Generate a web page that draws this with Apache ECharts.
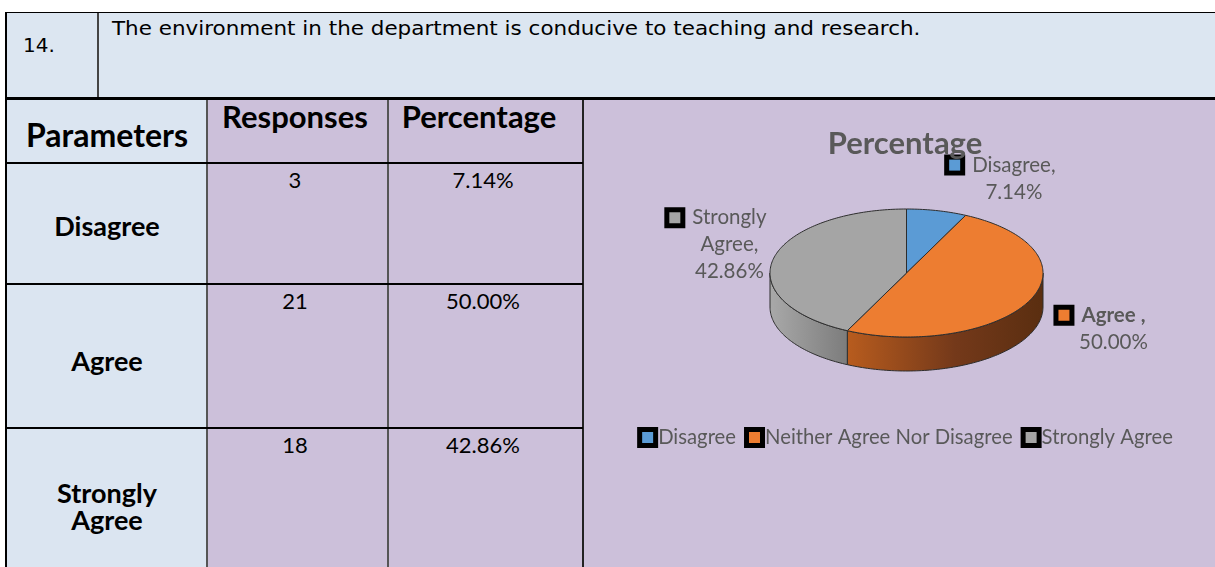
<!DOCTYPE html>
<html>
<head>
<meta charset="utf-8">
<title>Percentage</title>
<script src="https://cdn.jsdelivr.net/npm/echarts@6/dist/echarts.min.js"></script>
<style>
  body { margin: 0; width: 1215px; height: 567px; overflow: hidden; background: #fff; position: relative; font-family: Lato, sans-serif; }
  .abs { position: absolute; box-sizing: border-box; }
  .blue { background: #dbe5f1; }
  .lav { background: #ccc0da; }
  .hline { background: #000; height: 2px; }
  .vline { width: 1.5px; background: #555; }
  .q { font-family: "DejaVu Sans", sans-serif; color: #000; white-space: nowrap; line-height: normal; }
  .hdr { font-weight: bold; text-align: center; line-height: 1.2; color: #000; white-space: nowrap; }
  .val { text-align: center; font-size: 22px; line-height: 1.2; color: #000; }
  .par { font-weight: bold; text-align: center; font-size: 27px; line-height: 27px; color: #000; }
  #chart { left: 584px; top: 99px; width: 642px; height: 468px; }
</style>
</head>
<body>
  <!-- 题目行 -->
  <div class="abs" style="left:6px;top:12px;width:1220px;height:87px;background:#dce6f1;border-top:1.5px solid #000;"></div>
  <div class="abs" style="left:97px;top:13px;width:1.5px;height:85px;background:#444;"></div>
  <div class="abs" style="left:6px;top:97px;width:1220px;height:3px;background:#000;"></div>
  <div class="abs q" style="left:23px;top:33px;font-size:20px;">14.</div>
  <div class="abs q" id="question" style="left:112px;top:17px;font-size:19px;transform:scaleX(1.13);transform-origin:0 0;"></div>

  <!-- 表格底色 -->
  <div class="abs blue" style="left:6px;top:100px;width:201px;height:467px;"></div>
  <div class="abs lav" style="left:207px;top:100px;width:1010px;height:467px;"></div>

  <!-- 表头 -->
  <div class="abs hdr" style="left:7px;top:116px;width:200px;font-size:32px;">Parameters</div>
  <div class="abs hdr" style="left:207px;top:98px;width:176px;font-size:31px;">Responses</div>
  <div class="abs hdr" style="left:388px;top:98px;width:182px;font-size:31px;">Percentage</div>

  <div id="rows"></div>

  <!-- 表格线 -->
  <div class="abs" style="left:5px;top:12px;width:2px;height:555px;background:#000;"></div>
  <div class="abs vline" style="left:206px;top:100px;height:467px;"></div>
  <div class="abs vline" style="left:387px;top:100px;height:467px;"></div>
  <div class="abs" style="left:582px;top:100px;width:2px;height:467px;background:#222;"></div>
  <div class="abs hline" style="left:6px;top:162px;width:577px;"></div>
  <div class="abs hline" style="left:6px;top:283px;width:577px;"></div>
  <div class="abs hline" style="left:6px;top:427px;width:577px;"></div>

  <div class="abs" id="chart"></div>

<script>
// 数据
const question = 'The environment in the department is conducive to teaching and research.';
const parameters = ['Disagree', 'Agree', 'Strongly Agree'];
const responses = [3, 21, 18];
const percentages = [7.14, 50.00, 42.86];
const legendNames = ['Disagree', 'Neither Agree Nor Disagree', 'Strongly Agree'];
const sliceLabels = ['Disagree', 'Agree ', 'Strongly\nAgree'];

// 样式
const sliceColors = ['#5b9bd5', '#ed7d31', '#a5a5a5'];
const sideColors = [
  [{ offset: 0, color: '#41719c' }, { offset: 1, color: '#2e5275' }],
  [{ offset: 0, color: '#b85c1e' }, { offset: 0.55, color: '#74391a' }, { offset: 1, color: '#5a2e10' }],
  [{ offset: 0, color: '#a9a9a9' }, { offset: 1, color: '#7c7c7c' }]
];
const labelBold = [false, true, false];
const labelOffsets = [[77, -32], [84, 28], [-44, -14]];
const PIE = { cx: 322.5, cy: 174, rx: 136.5, ry: 64, depth: 34 };
const EDGE = '#2d2d2d';
const TEXT = '#595959';

// 图例方块（黑色粗边框 + 彩色内芯）
function keyStyle(color) {
  return { width: 11, height: 11, backgroundColor: color, borderColor: '#000', borderWidth: 5, borderRadius: 0 };
}

// 表格行
const rowTops = [163, 284, 428];
const rowLabelTops = [212, 347, 479];

function renderTable() {
  document.getElementById('question').textContent = question;
  document.getElementById('rows').innerHTML = parameters.map((p, i) => `
    <div class="abs par" style="left:7px;top:${rowLabelTops[i]}px;width:200px;">${p.replace(' ', '<br>')}</div>
    <div class="abs val" style="left:207px;top:${rowTops[i] + 4}px;width:176px;">${responses[i]}</div>
    <div class="abs val" style="left:388px;top:${rowTops[i] + 4}px;width:190px;">${percentages[i].toFixed(2)}%</div>
  `).join('');
}

// 3D 饼图扇区
function renderSlice(params, api) {
  const i = params.seriesIndex;
  const total = percentages.reduce((a, b) => a + b, 0);
  const before = percentages.slice(0, i).reduce((a, b) => a + b, 0);
  const a0 = before / total * Math.PI * 2;
  const a1 = (before + api.value(0)) / total * Math.PI * 2;

  const pt = (t, dy) => [PIE.cx + PIE.rx * Math.sin(t), PIE.cy - PIE.ry * Math.cos(t) + dy];
  const arc = (from, to, dy) => {
    const n = Math.max(2, Math.ceil(Math.abs(to - from) / 0.02));
    const pts = [];
    for (let k = 0; k <= n; k++) pts.push(pt(from + (to - from) * k / n, dy));
    return pts;
  };

  const children = [];
  // 侧面，只画前半圈
  const w0 = Math.max(a0, Math.PI / 2);
  const w1 = Math.min(a1, Math.PI * 1.5);
  if (w1 > w0) {
    children.push({
      type: 'polygon',
      z2: 1,
      shape: { points: arc(w0, w1, 0).concat(arc(w1, w0, PIE.depth)) },
      style: {
        fill: new echarts.graphic.LinearGradient(0, 0, 1, 0, sideColors[i]),
        stroke: EDGE,
        lineWidth: 1
      }
    });
  }
  // 顶面
  children.push({
    type: 'polygon',
    z2: 10,
    shape: { points: [[PIE.cx, PIE.cy]].concat(arc(a0, a1, 0)) },
    style: { fill: sliceColors[i], stroke: EDGE, lineWidth: 1 }
  });

  // 数据标签
  const mid = pt((a0 + a1) / 2, 0);
  const lines = (sliceLabels[i] + ',').split('\n');
  const nameStyle = labelBold[i] ? 'b' : 't';
  let text = `{k|}{g|}{${nameStyle}|${lines[0]}}{s|}`;
  for (let k = 1; k < lines.length; k++) text += `\n{t|${lines[k]}}`;
  text += `\n{t|${api.value(0).toFixed(2)}%}`;
  children.push({
    type: 'text',
    z2: 20,
    x: mid[0] + labelOffsets[i][0],
    y: mid[1] + labelOffsets[i][1],
    style: {
      text: text,
      align: 'center',
      verticalAlign: 'middle',
      fill: TEXT,
      fontFamily: 'Lato',
      fontSize: 20.5,
      lineHeight: 27,
      rich: {
        k: keyStyle(sliceColors[i]),
        g: { width: 12 },
        s: { width: 23 },
        t: { fontFamily: 'Lato', fontSize: 20.5, lineHeight: 27, fill: TEXT },
        b: { fontFamily: 'Lato', fontSize: 20.5, lineHeight: 27, fill: TEXT, fontWeight: 'bold' }
      }
    }
  });

  return { type: 'group', children };
}

function initChart() {
  const chart = echarts.init(document.getElementById('chart'));
  const legendRich = { g: { width: 5 } };
  sliceColors.forEach((c, i) => { legendRich['k' + i] = keyStyle(c); });

  chart.setOption({
    animation: false,
    backgroundColor: 'transparent',
    title: {
      text: 'Percentage',
      left: 'center',
      top: 24,
      textStyle: { fontFamily: 'Lato', fontWeight: 'bold', fontSize: 31, color: TEXT }
    },
    legend: {
      data: legendNames,
      left: 'center',
      top: 323,
      icon: 'rect',
      itemWidth: 0,
      itemHeight: 0,
      itemGap: 8,
      selectedMode: false,
      formatter: name => `{k${legendNames.indexOf(name)}|}{g|}${name}`,
      textStyle: { fontFamily: 'Lato', fontSize: 20.3, color: TEXT, rich: legendRich }
    },
    series: legendNames.map((name, i) => ({
      type: 'custom',
      name: name,
      coordinateSystem: 'none',
      silent: true,
      itemStyle: { color: sliceColors[i] },
      data: [percentages[i]],
      renderItem: renderSlice
    }))
  });
}

renderTable();
initChart();
</script>
</body>
</html>
